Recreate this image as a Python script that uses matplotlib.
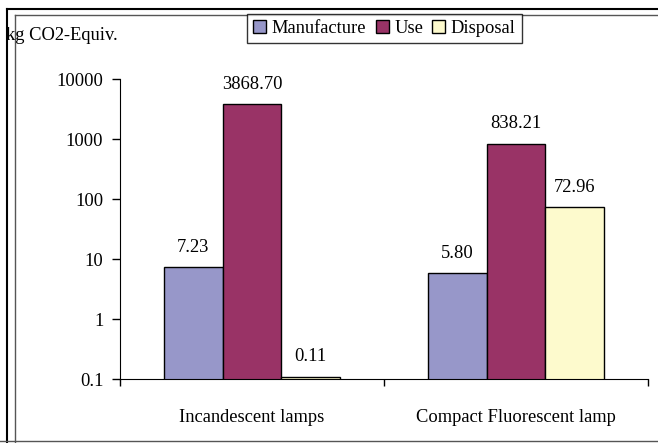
import matplotlib
matplotlib.use("Agg")
import matplotlib.pyplot as plt
import numpy as np
from matplotlib.lines import Line2D

plt.rcParams['font.family'] = ['Liberation Serif', 'DejaVu Serif']

categories = ["Incandescent lamps", "Compact Fluorescent lamp"]
series = ["Manufacture", "Use", "Disposal"]
manufacture = [7.23, 5.80]
use = [3868.70, 838.21]
disposal = [0.11, 72.96]
colors = ["#9797C9", "#993366", "#FDFACD"]
yticks = [0.1, 1, 10, 100, 1000, 10000]
yticklabels = ["0.1", "1", "10", "100", "1000", "10000"]

FS = 13.3
fig = plt.figure(figsize=(6.58, 4.43), dpi=100)
ax = fig.add_axes([120/658, 1-379/443, 528/658, 300/443])
ax.set_yscale("log")

x = np.arange(len(categories))
w = 0.223
data = [manufacture, use, disposal]
for i, (name, vals, c) in enumerate(zip(series, data, colors)):
    pos = x + (i - 1) * w
    ax.bar(pos, vals, width=w, color=c, edgecolor="black",
           linewidth=1.0, label=name)
    for p, v in zip(pos, vals):
        ax.annotate(f"{v:.2f}", (p, v), xytext=(0, 8), textcoords="offset points",
                    ha="center", va="bottom", fontsize=FS)

ax.set_ylim(0.1, 10000)
ax.set_xlim(-0.5, 1.5)
ax.set_yticks(yticks)
ax.set_yticklabels(yticklabels, fontsize=FS)
ax.minorticks_off()
ax.set_xticks([-0.5, 0.5, 1.5])
ax.set_xticklabels([])
ax.tick_params(axis="x", length=5, direction="out", width=1)
ax.tick_params(axis="y", length=6, direction="out", width=1, pad=6)
for i, cat in enumerate(categories):
    ax.text(i, -0.127, cat, transform=ax.get_xaxis_transform(), ha="center",
            va="center", fontsize=FS)
ax.spines["top"].set_visible(False)
ax.spines["right"].set_visible(False)

fig.text(6/658, 1-36/443, "kg CO2-Equiv.", fontsize=FS, va="center", ha="left")

leg = fig.legend(loc="center", bbox_to_anchor=(384.5/658, 1-28.5/443), ncol=3,
                 fontsize=FS, frameon=True, fancybox=False, edgecolor="black",
                 handlelength=0.7, handleheight=0.7, handletextpad=0.3,
                 columnspacing=0.5, borderpad=0.35, borderaxespad=0)
leg.get_frame().set_linewidth(1.0)

# outer frames
fig.add_artist(Line2D([7/658, 7/658], [1-442/443, 1-9/443], transform=fig.transFigure, color="black", lw=1.5))
fig.add_artist(Line2D([7/658, 1], [1-9/443, 1-9/443], transform=fig.transFigure, color="black", lw=1.5))
fig.add_artist(Line2D([15/658, 15/658], [0, 1-15/443], transform=fig.transFigure, color="#555555", lw=1))
fig.add_artist(Line2D([15/658, 1], [1-15/443, 1-15/443], transform=fig.transFigure, color="#555555", lw=1))
fig.add_artist(Line2D([0, 1], [1-441/443, 1-441/443], transform=fig.transFigure, color="#555555", lw=1))

fig.savefig("out.png", dpi=100)
